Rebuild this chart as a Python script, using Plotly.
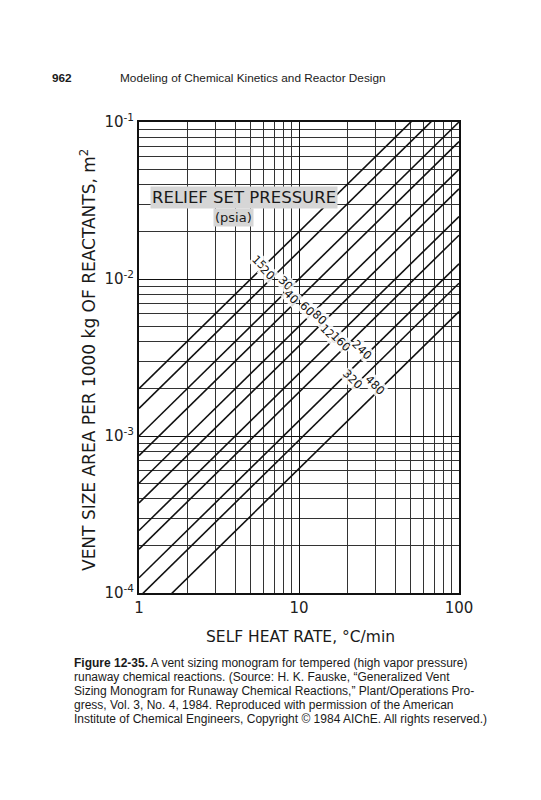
import math
import plotly.graph_objects as go

# ---- data ----
set_pressures = ["15", "20", "30", "40", "60", "80", "120", "160", "240", "320", "480"]  # psia
# vent area (m^2 per 1000 kg) where each line meets heat rate = 1 and = 100 C/min
area_at_1 = [2.0e-3, 1.5e-3, 1.0e-3, 7.5e-4, 5.0e-4, 3.75e-4, 2.5e-4, 1.9e-4, 1.25e-4, 9.4e-5, 6.2e-5]
area_at_100 = [0.20, 0.15, 0.10, 0.075, 0.050, 0.0375, 0.025, 0.019, 0.0125, 0.0094, 0.0062]
heat_rate_ends = [1, 100]
# heat rate (log10) at which each pressure label sits on its line
label_logq = [0.775, 0.83, 0.94, 0.98, 1.08, 1.15, 1.22, 1.29, 1.42, 1.36, 1.50]

x_ticks = [1, 10, 100]
x_ticktext = ["1", "10", "100"]
y_ticks = [1e-4, 1e-3, 1e-2, 1e-1]
y_ticktext = ["10<sup>-4</sup>", "10<sup>-3</sup>", "10<sup>-2</sup>", "10<sup>-1</sup>"]

OFF = 8  # page body margin
W, H = 533, 792
L, T = 139 - OFF, 122 - OFF
PW, PH = 320, 471
R, B = W - L - PW, H - T - PH


def px(xp):
    return (xp - OFF - L) / PW


def py(yp):
    return (T + PH - (yp - OFF)) / PH


fig = go.Figure()
for p, a1, a100 in zip(set_pressures, area_at_1, area_at_100):
    fig.add_trace(go.Scatter(x=heat_rate_ends, y=[a1, a100], mode="lines",
                             line=dict(color="#111", width=1.6), name=p,
                             showlegend=False, hoverinfo="skip"))

anns = []
for p, a1, a100, lq in zip(set_pressures, area_at_1, area_at_100, label_logq):
    la = math.log10(a1) + (math.log10(a100) - math.log10(a1)) * lq / 2.0
    anns.append(dict(x=lq, y=la, xref="x", yref="y", text=p, showarrow=False,
                     xanchor="center", yanchor="middle",
                     textangle=45, font=dict(family="DejaVu Sans", size=11.5, color="#111"),
                     bgcolor="rgba(255,255,255,0.85)", borderpad=0,
                     xshift=-4, yshift=5))


def note(xp, yp, text, size, family="DejaVu Sans", xanchor="center", angle=0, bg=None):
    d = dict(x=px(xp), y=py(yp), xref="paper", yref="paper", xanchor=xanchor,
             yanchor="middle", text=text, showarrow=False, textangle=angle,
             font=dict(family=family, size=size, color="#1a1a1a"))
    if bg:
        d["bgcolor"] = bg
    anns.append(d)


# in-chart labels
note(150, 197, "RELIEF SET PRESSURE", 16.5, xanchor="left", bg="#d6d6d6")
note(213, 218, "(psia)", 13, xanchor="left", bg="#d6d6d6")

# axis titles
note(300, 637, "SELF HEAT RATE, °C/min", 15.5)
note(88, 360, "VENT SIZE AREA PER 1000 kg OF REACTANTS, m<sup>2</sup>", 17, angle=-90)

# page header
note(50, 78, "<b>962</b>", 11.8, family="Liberation Sans", xanchor="left")
note(118, 78, "Modeling of Chemical Kinetics and Reactor Design", 11.8,
     family="Liberation Sans", xanchor="left")

caption = [
    "<b>Figure 12-35.</b> A vent sizing monogram for tempered (high vapor pressure)",
    "runaway chemical reactions. (Source: H. K. Fauske, “Generalized Vent",
    "Sizing Monogram for Runaway Chemical Reactions,” Plant/Operations Pro-",
    "gress, Vol. 3, No. 4, 1984. Reproduced with permission of the American",
    "Institute of Chemical Engineers, Copyright © 1984 AIChE. All rights reserved.)",
]
for i, line in enumerate(caption):
    note(72, 663 + 14 * i, line, 12, family="Liberation Sans", xanchor="left")

axis_common = dict(type="log", showgrid=True, gridcolor="#111", gridwidth=1,
                   showline=True, linecolor="#111", linewidth=2, mirror=True,
                   ticks="", zeroline=False,
                   tickfont=dict(family="DejaVu Sans", size=15, color="#222"),
                   minor=dict(dtick="D1", showgrid=True, gridcolor="#333", gridwidth=0.8))

fig.update_xaxes(range=[0, 2], tickvals=x_ticks, ticktext=x_ticktext, **axis_common)
fig.update_yaxes(range=[-4, -1], tickvals=y_ticks, ticktext=y_ticktext, **axis_common)

fig.update_layout(width=W, height=H, margin=dict(l=L, r=R, t=T, b=B, autoexpand=False),
                  paper_bgcolor="white", plot_bgcolor="white",
                  annotations=anns, showlegend=False)

fig.write_html("out.html")
